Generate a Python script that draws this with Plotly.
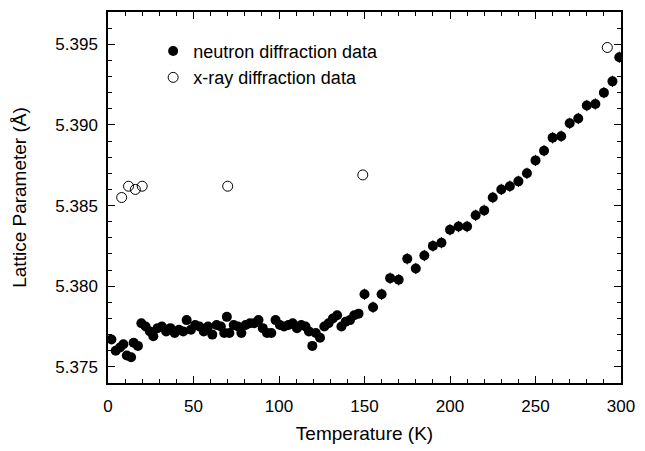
import plotly.graph_objects as go

# Neutron diffraction data: temperature (K), lattice parameter (Å), error
neutron_T = [2, 4.5, 7, 9, 11, 13.5, 15, 17.5, 19.5, 22, 24.5, 26.5, 29, 31.5, 34, 36.5,
             39, 41.5, 44, 46, 48.5, 51, 53.5, 56, 58.5, 61, 63.5, 66, 68, 69.5, 71, 73.5,
             76, 78, 80.5, 83, 85.5, 88, 90.5, 93, 95.5, 98, 100.5, 103, 105.5, 108, 110.5,
             113, 115.5, 117.5, 119.5, 121.5, 124, 126.5, 129, 131.5, 134, 136.5, 139, 141.5,
             144, 146.5,
             150, 155, 160, 165, 170, 175, 180, 185, 190, 195, 200, 205, 210, 215, 220, 225,
             230, 235, 240, 245, 250, 255, 260, 265, 270, 275, 280, 285, 290, 295, 299]
neutron_a = [5.3767, 5.3760, 5.3762, 5.3764, 5.3757, 5.3756, 5.3765, 5.3763, 5.3777, 5.3775,
             5.3772, 5.3769, 5.3774, 5.3775, 5.3772, 5.3774, 5.3771, 5.3773, 5.3772, 5.3779,
             5.3773, 5.3776, 5.3775, 5.3772, 5.3775, 5.3770, 5.3776, 5.3775, 5.3771, 5.3781,
             5.3771, 5.3776, 5.3775, 5.3771, 5.3776, 5.3777, 5.3777, 5.3779, 5.3774, 5.3771,
             5.3771, 5.3779, 5.3776, 5.3775, 5.3776, 5.3777, 5.3774, 5.3776, 5.3775, 5.3772,
             5.3763, 5.3771, 5.3768, 5.3775, 5.3777, 5.3780, 5.3782, 5.3775, 5.3778, 5.3779,
             5.3782, 5.3783,
             5.3795, 5.3787, 5.3795, 5.3805, 5.3804, 5.3817, 5.3811, 5.3819, 5.3825, 5.3827,
             5.3835, 5.3837, 5.3837, 5.3844, 5.3847, 5.3855, 5.3860, 5.3862, 5.3865, 5.3870,
             5.3878, 5.3884, 5.3892, 5.3893, 5.3901, 5.3904, 5.3912, 5.3913, 5.3920, 5.3927,
             5.3942]
neutron_err = [0.00025] * 62 + [0.00035] * 31

# X-ray diffraction data
xray_T = [8, 12, 16, 20, 70, 149, 292]
xray_a = [5.3855, 5.3862, 5.3860, 5.3862, 5.3862, 5.3869, 5.3948]

FONT = "Liberation Sans, Arial, Helvetica, sans-serif"

fig = go.Figure()
fig.add_trace(go.Scatter(
    x=neutron_T, y=neutron_a, mode="markers", name="neutron diffraction data",
    marker=dict(symbol="circle", size=10, color="black"),
    error_y=dict(type="data", array=neutron_err, visible=True, color="black",
                 thickness=1, width=0),
))
fig.add_trace(go.Scatter(
    x=xray_T, y=xray_a, mode="markers", name="x-ray diffraction data",
    marker=dict(symbol="circle-open", size=10, color="black", line=dict(width=1, color="black")),
))

axis_common = dict(
    showline=True, linecolor="black", linewidth=1.5, mirror="allticks",
    ticks="inside", ticklen=7, tickwidth=1, tickcolor="black",
    showgrid=False, zeroline=False,
    tickfont=dict(family=FONT, size=17, color="black"),
)

fig.update_xaxes(
    range=[0, 300], tickvals=[0, 50, 100, 150, 200, 250, 300],
    minor=dict(dtick=10, ticks="inside", ticklen=4, tickwidth=1, tickcolor="black", showgrid=False),
    ticklabelstandoff=7,
    title=dict(text="Temperature (K)", font=dict(family=FONT, size=19, color="black"), standoff=12),
    **axis_common,
)
fig.update_yaxes(
    range=[5.374, 5.397], tickvals=[5.375, 5.380, 5.385, 5.390, 5.395],
    tickformat=".3f",
    minor=dict(dtick=0.001, tick0=5.375, ticks="inside", ticklen=4, tickwidth=1, tickcolor="black", showgrid=False),
    ticklabelstandoff=5,
    title=dict(text="Lattice Parameter (Å)", font=dict(family=FONT, size=19, color="black"), standoff=24),
    **axis_common,
)

fig.update_layout(
    width=645, height=451,
    margin=dict(l=108, r=18, t=10, b=63),
    plot_bgcolor="white", paper_bgcolor="white",
    font=dict(family=FONT, color="black"),
    legend=dict(x=0.088, y=0.944, xanchor="left", yanchor="top",
                bgcolor="rgba(0,0,0,0)", borderwidth=0,
                font=dict(family=FONT, size=18, color="black"),
                tracegroupgap=0, itemsizing="trace", itemwidth=30),
    showlegend=True,
)

fig.write_html("out.html")
